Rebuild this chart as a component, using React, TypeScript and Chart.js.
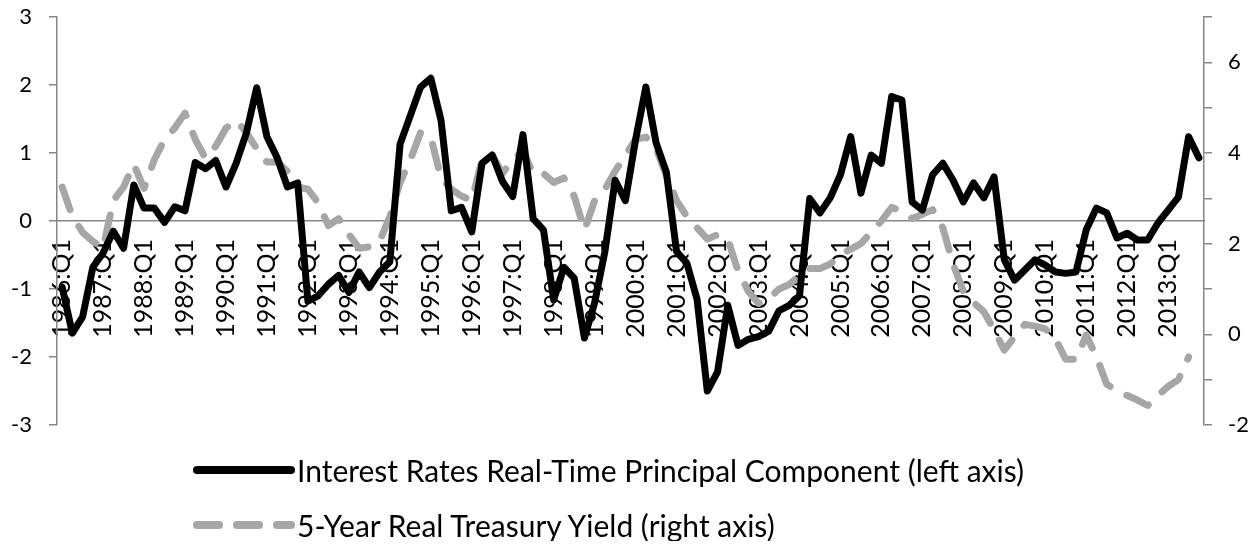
import React, { useEffect, useRef } from 'react';
import { Chart, registerables } from 'chart.js';

Chart.register(...registerables);

const years = [
  1986, 1987, 1988, 1989, 1990, 1991, 1992, 1993, 1994, 1995, 1996, 1997, 1998, 1999,
  2000, 2001, 2002, 2003, 2004, 2005, 2006, 2007, 2008, 2009, 2010, 2011, 2012, 2013,
];
const quarterNames = ['Q1', 'Q2', 'Q3', 'Q4'];
const categories: string[] = years.flatMap((y) => quarterNames.map((q) => `${y}:${q}`));

// Interest Rates Real-Time Principal Component (left axis)
const principalComponent = [
  -0.97, -1.65, -1.41, -0.68, -0.47, -0.15, -0.4, 0.53,
  0.19, 0.19, -0.02, 0.21, 0.15, 0.86, 0.77, 0.89,
  0.5, 0.85, 1.3, 1.96, 1.24, 0.93, 0.5, 0.56,
  -1.18, -1.1, -0.93, -0.8, -1.05, -0.75, -0.98, -0.75,
  -0.6, 1.13, 1.55, 1.97, 2.1, 1.48, 0.15, 0.2,
  -0.16, 0.85, 0.97, 0.58, 0.36, 1.27, 0.03, -0.13,
  -1.16, -0.68, -0.84, -1.72, -1.2, -0.45, 0.6, 0.3,
  1.2, 1.97, 1.15, 0.72, -0.45, -0.62, -1.15, -2.5,
  -2.22, -1.24, -1.83, -1.74, -1.7, -1.62, -1.32, -1.24,
  -1.1, 0.33, 0.12, 0.34, 0.68, 1.24, 0.41, 0.97,
  0.85, 1.83, 1.78, 0.28, 0.16, 0.68, 0.85, 0.6,
  0.28, 0.56, 0.34, 0.65, -0.57, -0.87, -0.72, -0.57,
  -0.65, -0.75, -0.77, -0.75, -0.13, 0.19, 0.12, -0.25,
  -0.18, -0.28, -0.28, -0.03, 0.16, 0.35, 1.24, 0.93,
];

// 5-Year Real Treasury Yield (right axis)
const treasuryYield = [
  3.25, 2.6, 2.25, 2.05, 1.9, 2.95, 3.25, 3.75,
  3.22, 3.85, 4.3, 4.55, 4.88, 4.3, 3.88, 4.15,
  4.55, 4.72, 4.45, 4.1, 3.8, 3.8, 3.6, 3.25,
  3.2, 2.9, 2.4, 2.55, 2.2, 1.9, 1.93, 2.05,
  2.6, 3.35, 3.85, 4.45, 4.35, 3.45, 3.2, 3.05,
  2.95, 3.85, 3.95, 3.55, 3.85, 4.05, 3.55, 3.55,
  3.35, 3.45, 3.05, 2.3, 2.95, 3.2, 3.6, 3.95,
  4.3, 4.35, 4.1, 3.5, 2.95, 2.6, 2.35, 2.1,
  2.2, 2.1, 1.4, 0.95, 0.68, 0.78, 1.0, 1.1,
  1.3, 1.45, 1.45, 1.55, 1.75, 1.88, 2.0, 2.25,
  2.5, 2.8, 2.72, 2.55, 2.65, 2.75, 2.35, 1.55,
  0.95, 0.7, 0.5, 0.1, -0.35, -0.05, 0.22, 0.18,
  0.12, -0.1, -0.55, -0.55, -0.02, -0.5, -1.1, -1.25,
  -1.35, -1.45, -1.57, -1.35, -1.15, -1.0, -0.5, null,
];

const seriesNames = [
  'Interest Rates Real-Time Principal Component (left axis)',
  '5-Year Real Treasury Yield (right axis)',
];
const leftAxisRange = [-3, 3];
const rightAxisRange = [-2, 7];
const rightTickLabels = [-2, 0, 2, 4, 6];

const AXIS_GREY = '#868686';
const BLACK = '#000000';
const GREY = '#A6A6A6';
const FONT = 'Lato, "Open Sans", sans-serif';

export default function App() {
  const canvasRef = useRef<HTMLCanvasElement>(null);

  useEffect(() => {
    if (!canvasRef.current) return;
    const chart = new Chart(canvasRef.current, {
      type: 'line',
      data: {
        labels: categories,
        datasets: [
          {
            label: seriesNames[0],
            data: principalComponent,
            yAxisID: 'y',
            borderColor: BLACK,
            backgroundColor: BLACK,
            borderWidth: 7,
            pointRadius: 0,
            tension: 0,
            borderCapStyle: 'round',
            borderJoinStyle: 'round',
            fill: false,
          },
          {
            label: seriesNames[1],
            data: treasuryYield,
            yAxisID: 'y1',
            borderColor: GREY,
            backgroundColor: GREY,
            borderWidth: 7,
            borderDash: [24, 19],
            borderCapStyle: 'round',
            borderJoinStyle: 'round',
            pointRadius: 0,
            tension: 0,
            fill: false,
          },
        ],
      },
      options: {
        responsive: false,
        animation: false,
        events: [],
        layout: { padding: { top: 9, bottom: 116, left: 0, right: 0 } },
        plugins: { legend: { display: false }, tooltip: { enabled: false } },
        scales: {
          x: {
            type: 'category',
            offset: true,
            position: { y: 0 } as any,
            grid: { display: true, drawOnChartArea: false, drawTicks: false },
            border: { display: true, color: AXIS_GREY, width: 1.5 },
            ticks: {
              autoSkip: false,
              minRotation: 90,
              maxRotation: 90,
              padding: 18,
              color: BLACK,
              font: { family: FONT, size: 25 },
              callback: (_v: any, index: number) => {
                const l = categories[index];
                return l.endsWith(':Q1') ? l : '';
              },
            },
            afterFit: (s: any) => {
              s.paddingLeft = 0;
              s.paddingRight = 0;
            },
          },
          y: {
            position: 'left',
            min: leftAxisRange[0],
            max: leftAxisRange[1],
            grid: { drawOnChartArea: false, drawTicks: true, tickLength: 8, color: AXIS_GREY, lineWidth: 1.5 },
            border: { display: true, color: AXIS_GREY, width: 1.5 },
            ticks: {
              stepSize: 1,
              padding: 17,
              color: BLACK,
              font: { family: FONT, size: 22 },
            },
            afterFit: (s: any) => {
              s.width = 49;
              s.paddingTop = 0;
              s.paddingBottom = 0;
            },
          },
          y1: {
            position: 'right',
            min: rightAxisRange[0],
            max: rightAxisRange[1],
            grid: { drawOnChartArea: false, drawTicks: true, tickLength: 8, color: AXIS_GREY, lineWidth: 1.5 },
            border: { display: true, color: AXIS_GREY, width: 1.5 },
            ticks: {
              stepSize: 1,
              padding: 16,
              color: BLACK,
              font: { family: FONT, size: 22 },
              callback: (v: any) => (rightTickLabels.includes(Number(v)) ? String(v) : ''),
            },
            afterFit: (s: any) => {
              s.width = 47;
              s.paddingTop = 0;
              s.paddingBottom = 0;
            },
          },
        },
      },
    });
    return () => chart.destroy();
  }, []);

  const rowStyle = (top: number): React.CSSProperties => ({
    position: 'absolute',
    left: 185,
    top,
    height: 40,
    display: 'flex',
    alignItems: 'center',
    whiteSpace: 'nowrap',
  });
  const textStyle: React.CSSProperties = {
    fontFamily: FONT,
    fontSize: 30,
    color: BLACK,
    marginLeft: 2,
    lineHeight: '40px',
  };

  return (
    <div style={{ position: 'relative', width: 1243, height: 533 }}>
      <canvas ref={canvasRef} width={1243} height={533} style={{ display: 'block' }} />
      <div style={rowStyle(442)}>
        <svg width={102} height={12} style={{ display: 'block' }}>
          <line x1={4} y1={6} x2={98} y2={6} stroke={BLACK} strokeWidth={8} strokeLinecap="round" />
        </svg>
        <span style={textStyle}>{seriesNames[0]}</span>
      </div>
      <div style={rowStyle(497)}>
        <svg width={102} height={12} style={{ display: 'block' }}>
          <line
            x1={4}
            y1={6}
            x2={98}
            y2={6}
            stroke={GREY}
            strokeWidth={8}
            strokeLinecap="round"
            strokeDasharray="22 18"
          />
        </svg>
        <span style={textStyle}>{seriesNames[1]}</span>
      </div>
    </div>
  );
}
